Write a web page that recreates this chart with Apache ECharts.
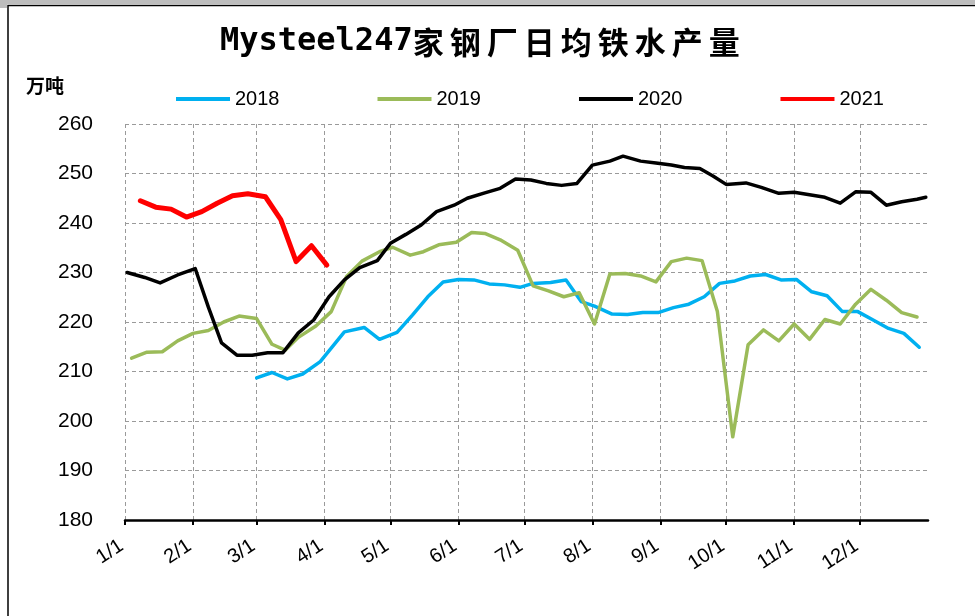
<!DOCTYPE html>
<html><head><meta charset="utf-8">
<script src="https://cdn.jsdelivr.net/npm/echarts@6/dist/echarts.min.js"></script>
<style>html,body{margin:0;padding:0;background:#fff}#c{width:975px;height:616px}</style>
</head><body><div id="c"></div><script>
// ---------- data ----------
const titleLatin = 'Mysteel247';
const titleCJK = '家钢厂日均铁水产量';
const unitLabel = '万吨';
const seriesNames = ['2018', '2019', '2020', '2021'];
const seriesColors = ['#00B0F0', '#9BBB59', '#000000', '#FF0000'];
const monthTicks = ['1/1','2/1','3/1','4/1','5/1','6/1','7/1','8/1','9/1','10/1','11/1','12/1'];
const yMin = 180, yMax = 260, yStep = 10;

const dates2018 = ['3/1','3/8','3/15','3/22','3/30','4/10','4/19','4/26','5/4','5/11','5/18','5/25','6/1','6/8','6/15','6/22','6/29','7/5','7/13','7/20','7/27','8/2','8/10','8/17','8/24','8/31','9/7','9/14','9/21','9/28','10/5','10/12','10/19','10/26','11/2','11/9','11/16','11/23','11/30','12/7','12/14','12/21','12/28'];
const values2018 = [208.7,209.8,208.5,209.5,212.0,218.0,218.9,216.5,217.9,221.4,225.1,228.1,228.6,228.5,227.7,227.5,227.0,227.8,228.0,228.5,224.1,223.2,221.6,221.5,221.9,221.9,222.9,223.6,225.1,227.8,228.3,229.3,229.6,228.5,228.6,226.1,225.3,222.1,222.1,220.4,218.7,217.7,214.9];

const dates2019 = ['1/4','1/11','1/18','1/25','2/1','2/8','2/15','2/22','3/1','3/8','3/14','3/20','3/28','4/4','4/11','4/18','4/26','5/2','5/10','5/16','5/23','5/31','6/7','6/13','6/20','6/28','7/5','7/12','7/19','7/26','8/2','8/9','8/16','8/23','8/30','9/6','9/13','9/20','9/27','10/4','10/11','10/18','10/25','11/1','11/8','11/15','11/22','11/29','12/6','12/13','12/20','12/27'];
const values2019 = [212.7,213.9,214.0,216.2,217.7,218.3,220.0,221.2,220.7,215.5,214.3,216.9,219.2,222.1,229.2,232.3,234.2,235.1,233.5,234.2,235.6,236.1,238.1,237.9,236.6,234.5,227.3,226.3,225.1,225.9,219.6,229.7,229.8,229.3,228.1,232.2,232.9,232.4,222.1,196.8,215.4,218.4,216.2,219.6,216.5,220.5,219.6,223.6,226.6,224.4,221.9,221.0];

const dates2020 = ['1/2','1/10','1/17','1/25','2/2','2/8','2/14','2/21','2/28','3/6','3/13','3/20','3/27','4/3','4/10','4/17','4/25','5/1','5/8','5/15','5/22','5/30','6/5','6/13','6/20','6/27','7/4','7/11','7/18','7/25','8/1','8/9','8/15','8/23','8/30','9/6','9/12','9/19','9/25','10/1','10/10','10/17','10/25','11/1','11/8','11/15','11/22','11/29','12/6','12/13','12/20','12/27','12/31'];
const values2020 = [230.0,229.0,227.9,229.5,230.8,223.0,215.8,213.3,213.3,213.8,213.8,217.8,220.4,225.1,228.5,231.0,232.4,235.9,237.7,239.6,242.3,243.6,245.0,246.1,247.0,248.9,248.7,248.0,247.6,248.0,251.7,252.5,253.5,252.5,252.1,251.7,251.2,251.0,249.5,247.8,248.1,247.2,246.0,246.2,245.7,245.2,244.0,246.3,246.2,243.6,244.3,244.8,245.2];

const dates2021 = ['1/8','1/15','1/22','1/29','2/5','2/12','2/19','2/26','3/5','3/12','3/19','3/26','4/2'];
const values2021 = [244.5,243.2,242.8,241.2,242.3,244.0,245.5,245.9,245.3,240.7,232.2,235.4,231.5];

// ---------- helpers ----------
function ts(md) { const p = md.split('/'); return new Date(2020, +p[0] - 1, +p[1]).getTime(); }
function pairs(dates, vals) { return dates.map((d, i) => [ts(d), vals[i]]); }
const allDates = [dates2018, dates2019, dates2020, dates2021];
const allValues = [values2018, values2019, values2020, values2021];
const tickTs = monthTicks.map(ts);

const richTitle = '{l|' + titleLatin + '}' + titleCJK.split('').map(c => '{c|' + c + '}').join('{s| }');

const chart = echarts.init(document.getElementById('c'));
chart.setOption({
  backgroundColor: '#fff',
  animation: false,
  title: {
    text: richTitle, left: 215, top: 21,
    textStyle: {
      rich: {
        l: { fontFamily: 'DejaVu Sans Mono', fontWeight: 'bold', fontSize: 32, color: '#000' },
        c: { fontFamily: 'Noto Sans CJK SC', fontWeight: 'bold', fontSize: 31, color: '#000' },
        s: { fontFamily: 'DejaVu Sans Mono', fontSize: 10, color: '#000' }
      }
    }
  },
  graphic: [
    { type: 'rect', shape: { x: 0, y: 0, width: 975, height: 4 }, style: { fill: '#bdbdbd' }, silent: true },
    { type: 'rect', shape: { x: 0, y: 4, width: 7, height: 4 }, style: { fill: '#bdbdbd' }, silent: true },
    { type: 'rect', shape: { x: 8, y: 5.5, width: 1000, height: 700 }, style: { fill: 'none', stroke: '#000', lineWidth: 1.5 }, silent: true },
    { type: 'text', left: 26, top: 76, style: { text: unitLabel, font: 'bold 19px "Noto Sans CJK SC"', fill: '#000' } }
  ],
  legend: {
    left: 171, top: 84, itemWidth: 54, itemHeight: 4, itemGap: 98, icon: 'rect',
    textStyle: { fontSize: 20, color: '#000', fontFamily: 'Liberation Sans' },
    data: seriesNames
  },
  grid: { left: 125, right: 47, top: 124, bottom: 96, containLabel: false },
  xAxis: {
    type: 'value',
    min: new Date(2020, 0, 1).getTime(),
    max: new Date(2021, 0, 1).getTime(),
    axisLine: { show: true, lineStyle: { color: '#000', width: 2.5 } },
    axisTick: { show: true, customValues: tickTs, length: 5, lineStyle: { color: '#000', width: 2 } },
    axisLabel: {
      customValues: tickTs, rotate: 33, margin: 22, fontSize: 20, color: '#000', fontFamily: 'Liberation Sans',
      padding: [0, 4, 0, 0],
      formatter: v => { const d = new Date(v); return (d.getMonth() + 1) + '/' + d.getDate(); }
    },
    splitLine: { show: true, lineStyle: { color: '#9a9a9a', type: [4, 3], width: 1 } }
  },
  yAxis: {
    type: 'value', min: yMin, max: yMax, interval: yStep,
    axisLine: { show: false }, axisTick: { show: false },
    axisLabel: { fontSize: 21, color: '#000', margin: 32, fontFamily: 'Liberation Sans' },
    splitLine: { show: true, lineStyle: { color: '#9a9a9a', type: [4, 3], width: 1 } }
  },
  series: seriesNames.map((n, i) => ({
    name: n, type: 'line', showSymbol: false, symbol: 'none', smooth: false,
    data: pairs(allDates[i], allValues[i]),
    color: seriesColors[i],
    lineStyle: { color: seriesColors[i], width: i === 3 ? 5 : 3.5, join: 'round', cap: 'round' }
  }))
});
</script></body></html>
